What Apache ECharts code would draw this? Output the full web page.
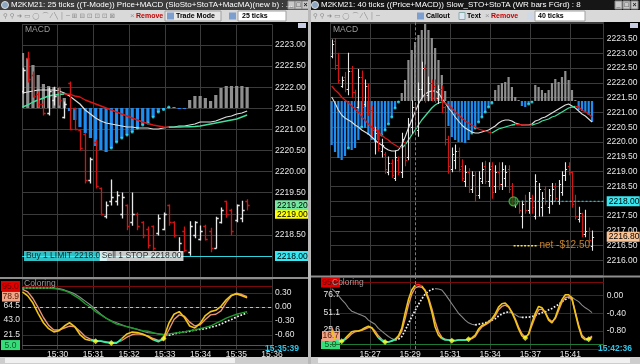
<!DOCTYPE html>
<html><head><meta charset="utf-8">
<script src="https://cdn.jsdelivr.net/npm/echarts@6/dist/echarts.min.js"></script>
<style>html,body{margin:0;padding:0;background:#000;}#c{width:640px;height:364px;}</style>
</head><body><div id="c"></div>
<script>
// ================= LEFT WINDOW DATA (25 ticks) =================
const leftTitle = 'M2KM21: 25 ticks ((T-Mode)) Price+MACD (SloSto+StoTA+MacMA)(new b) : ...';
const leftTimeStart = '15:29';
const leftTimeEnd = '15:36';
// [open, high, low, close]
const leftBars = [
 [2221.9,2222.45,2221.86,2222.4],[2222.7,2222.83,2222.12,2222.2],[2222.3,2222.36,2221.77,2221.8],
 [2221.85,2221.89,2221.53,2221.6],[2221.6,2221.7,2221.34,2221.4],[2221.4,2221.98,2221.34,2221.9],
 [2221.7,2222.0,2221.58,2221.8],[2221.9,2222.0,2221.58,2221.7],[2221.3,2221.65,2221.27,2221.6],
 [2222.1,2222.12,2220.99,2221.0],[2221.5,2221.5,2220.99,2221.0],[2220.99,2221.0,2220.51,2220.55],
 [2220.9,2220.91,2219.73,2219.8],[2219.8,2220.32,2219.73,2220.3],[2220.7,2220.75,2219.61,2219.65],
 [2219.6,2219.61,2218.97,2219.0],[2218.95,2219.28,2218.9,2219.2],[2219.3,2219.8,2219.21,2219.4],
 [2219.3,2219.52,2219.21,2219.45],[2219.0,2219.49,2218.9,2219.4],[2219.2,2219.21,2218.62,2218.7],
 [2218.8,2219.49,2218.73,2219.0],[2219.0,2219.02,2218.62,2218.7],[2218.8,2218.81,2218.43,2218.5],
 [2218.65,2218.69,2218.19,2218.25],[2218.7,2218.71,2218.14,2218.2],[2218.55,2218.97,2218.5,2218.9],
 [2218.65,2219.02,2218.62,2219.0],[2219.2,2219.21,2218.73,2218.8],[2218.8,2218.81,2218.45,2218.5],
 [2218.1,2218.43,2218.02,2218.3],[2218.6,2218.69,2218.1,2218.15],[2218.1,2218.81,2218.02,2218.7],
 [2218.5,2218.81,2218.43,2218.8],[2218.4,2218.71,2218.38,2218.6],[2218.7,2218.73,2218.38,2218.4],
 [2218.6,2218.66,2218.1,2218.2],[2218.2,2218.92,2218.19,2218.9],[2218.8,2219.14,2218.78,2219.1],
 [2219.3,2219.3,2218.92,2219.0],[2219.1,2219.11,2218.5,2218.6],[2218.85,2219.21,2218.81,2219.2],
 [2218.9,2219.3,2218.81,2219.1],[2219.3,2219.33,2219.09,2219.2]
];
const leftHist = [0.55,0.50,0.43,0.33,0.24,0.22,0.21,0.20,0.10,-0.03,
 -0.12,-0.19,-0.25,-0.30,-0.38,-0.42,-0.44,-0.40,-0.34,-0.30,
 -0.27,-0.24,-0.20,-0.17,-0.15,-0.09,-0.04,-0.015,0.01,0.01,
 -0.01,-0.01,0.08,0.12,0.12,0.10,0.07,0.13,0.20,0.22,
 0.22,0.22,0.22,0.21];
const leftHistDots = [17,18,19,20,21,22,23,24,25,26,27,28];
const leftMacd = [0.15,0.16,0.17,0.18,0.18,0.18,0.18,0.17,0.15,0.12,0.08,0.04,-0.02,-0.06,-0.10,-0.13,-0.15,-0.16,-0.17,-0.18,-0.19,-0.19,-0.20,-0.20,-0.20,-0.21,-0.21,-0.20,-0.19,-0.19,-0.18,-0.18,-0.17,-0.16,-0.14,-0.14,-0.14,-0.13,-0.11,-0.09,-0.08,-0.06,-0.05,-0.03];
const leftSignal = [0.01,0.03,0.06,0.08,0.10,0.12,0.13,0.135,0.14,0.138,0.12,0.11,0.08,0.06,0.04,0.02,0.00,-0.02,-0.04,-0.06,-0.08,-0.10,-0.12,-0.14,-0.155,-0.17,-0.18,-0.19,-0.192,-0.191,-0.19,-0.189,-0.187,-0.185,-0.18,-0.17,-0.16,-0.15,-0.14,-0.13,-0.12,-0.11,-0.09,-0.07];
const leftYellow = [86,80,69,53,39,30,25,27,34,39,33,21,14,12,11,11,9,8,8,15,22,25,24,22,18,13,10,15,38,52,56,47,34,31,38,50,56,58,64,74,81,83,80,77];
const leftSalmon = [90,86,76,62,47,35,28,28,31,34,33,26,18,14,12,11,10,9,9,12,17,21,22,21,19,15,12,13,28,44,51,49,40,34,36,44,51,52,57,70,80,84,82,78.9];
const leftGreen = [92,92,92,92,92,92,91,90,88,85,80,75,68,63,56,51,46,41,37,35,33,31,29,27,26,24,22,21,22,23,24,25,27,28,30,32,34,38,42,46,49,52,54,56];
const leftGray = [92,92,92,92,92,92,92,91,89,86,83,78,72,66,59,52,46,42,39,36,33,31,29,26,24,23,22,21,20,22,24,25,26,28,29,30,32,34,37,41,44,48,51,54];
const leftStochMarks = [14,17,27];
const leftPriceTicks = [2218,2218.5,2219,2219.5,2220,2220.5,2221,2221.5,2222,2222.5,2223];
const leftLastPrice = 2219.2;
const leftBidPrice = 2219.0;
const leftOrderPrice = 2218.0;
const leftOrderTexts = ['Buy 1 LIMIT 2218.00','Sell 1 STOP 2218.00'];
const leftOrderBars = [0, 14.5];
const leftStochTicks = [95, 64.5, 43.0, 21.5, 5];
const leftClock = '15:35:39';

// ================= RIGHT WINDOW DATA (40 ticks) =================
const rightTitle = 'M2KM21: 40 ticks ((Price+MACD)) Slow_STO+StoTA (WR bars FGrd) : 8';
const rightTimeLabels = ['', '15:27', '15:29', '15:31', '15:34', '15:37', '15:41'];
const rightBarsPerLabel = 12;
const rightBars = [
 [2222.9,2223.45,2222.85,2223.3],[2223.4,2223.5,2222.45,2222.6],[2222.6,2223.0,2222.0,2222.1],
 [2221.9,2222.2,2221.85,2222.1],[2222.2,2222.35,2221.7,2221.8],[2221.8,2223.0,2221.6,2222.4],
 [2222.4,2222.55,2221.5,2221.7],[2221.7,2221.75,2221.1,2221.2],[2221.2,2222.45,2221.15,2222.2],
 [2222.2,2222.4,2220.9,2221.2],[2221.3,2222.1,2221.2,2221.9],[2221.9,2221.95,2220.9,2221.1],
 [2221.1,2221.2,2220.2,2220.4],[2220.1,2220.5,2219.6,2220.3],[2220.3,2220.4,2219.7,2219.8],
 [2219.7,2220.1,2219.5,2219.9],[2219.6,2219.65,2218.95,2219.1],[2219.0,2219.5,2218.9,2219.3],
 [2219.3,2219.4,2218.8,2218.9],[2218.8,2219.7,2218.7,2219.5],[2219.4,2219.5,2218.9,2219.0],
 [2219.0,2220.3,2218.8,2220.1],[2220.0,2220.0,2219.2,2219.4],[2219.5,2220.8,2219.4,2220.6],
 [2220.5,2221.4,2220.3,2221.2],[2221.2,2221.3,2220.3,2220.5],[2220.4,2222.0,2220.2,2221.8],
 [2221.8,2222.7,2221.5,2222.5],[2222.5,2222.6,2221.35,2221.6],[2221.6,2222.2,2221.4,2222.0],
 [2222.0,2222.1,2221.4,2221.5],[2221.9,2222.1,2221.35,2221.5],[2221.5,2221.9,2221.3,2221.8],
 [2221.8,2221.9,2221.0,2221.2],[2221.2,2221.2,2219.9,2220.1],[2220.1,2220.2,2218.95,2219.2],
 [2219.1,2219.8,2219.0,2219.6],[2219.4,2219.9,2219.1,2219.7],[2219.7,2219.8,2219.0,2219.1],
 [2219.2,2219.4,2218.7,2218.8],[2218.7,2219.2,2218.5,2219.0],[2219.0,2219.1,2218.3,2218.4],
 [2218.4,2219.0,2218.3,2218.9],[2218.9,2219.0,2218.0,2218.2],[2218.2,2219.0,2218.1,2218.8],
 [2218.7,2219.3,2218.6,2219.1],[2219.2,2219.35,2218.6,2218.7],[2218.7,2219.3,2218.5,2219.1],
 [2219.2,2219.3,2218.1,2218.3],[2218.5,2219.2,2218.3,2219.0],[2219.0,2219.3,2218.4,2218.6],
 [2218.6,2219.3,2218.4,2219.1],[2218.8,2219.2,2218.5,2219.0],[2219.1,2219.2,2218.3,2218.4],
 [2218.5,2218.6,2217.9,2218.0],[2217.9,2218.1,2217.8,2218.0],[2218.0,2218.0,2217.6,2217.7],
 [2217.5,2218.0,2217.1,2217.9],[2218.0,2218.2,2217.6,2217.7],[2217.7,2218.3,2217.6,2218.1],
 [2218.1,2218.2,2217.6,2217.8],[2217.5,2218.9,2217.4,2218.7],[2218.0,2218.6,2217.5,2218.4],
 [2217.8,2218.3,2217.5,2218.1],[2218.4,2218.5,2217.9,2218.0],[2217.8,2218.4,2217.6,2218.2],
 [2218.0,2218.6,2217.9,2218.4],[2218.5,2218.6,2218.0,2218.1],[2218.0,2218.7,2217.9,2218.6],
 [2218.3,2219.0,2218.2,2218.9],[2218.9,2219.3,2218.7,2219.1],[2219.2,2219.3,2218.9,2219.0],
 [2219.0,2219.0,2217.8,2217.9],[2218.0,2218.2,2217.4,2217.5],[2217.4,2217.8,2217.3,2217.6],
 [2217.6,2217.6,2216.8,2216.9],[2216.9,2217.7,2216.8,2217.0],[2217.0,2217.1,2216.6,2216.7],
 [2216.5,2217.0,2216.35,2216.8]
];
const rightHist = [-0.44,-0.51,-0.57,-0.59,-0.55,-0.47,-0.49,-0.47,-0.39,-0.26,
 -0.27,-0.34,-0.39,-0.41,-0.39,-0.34,-0.29,-0.23,-0.16,-0.07,
 -0.01,0.08,0.21,0.41,0.51,0.59,0.66,0.71,0.77,0.71,
 0.63,0.53,0.41,0.26,0.10,-0.25,-0.36,-0.39,-0.41,-0.41,
 -0.42,-0.39,-0.32,-0.27,-0.21,-0.16,-0.11,-0.06,-0.02,0.11,
 0.16,0.18,0.19,0.24,0.14,0.04,0.00,-0.05,-0.06,-0.03,
 -0.01,0.16,0.14,0.11,0.08,0.11,0.18,0.22,0.19,0.24,
 0.30,0.21,0.11,0.01,-0.09,-0.10,-0.11,-0.14,-0.21];
const rightHistDots = [5,9,15,16,17,18,19,20,42,43,44,45,46,47,48,59,60];
const rightMacd = [0.04,-0.02,-0.09,-0.14,-0.17,-0.19,-0.21,-0.24,-0.26,-0.29,
 -0.31,-0.33,-0.36,-0.39,-0.42,-0.44,-0.47,-0.49,-0.50,-0.50,
 -0.49,-0.44,-0.36,-0.27,-0.19,-0.11,-0.03,0.03,0.07,0.09,
 0.10,0.10,0.08,0.03,-0.02,-0.07,-0.11,-0.16,-0.20,-0.24,
 -0.27,-0.29,-0.31,-0.32,-0.32,-0.31,-0.30,-0.29,-0.27,-0.25,
 -0.22,-0.20,-0.19,-0.19,-0.20,-0.22,-0.23,-0.24,-0.24,-0.24,
 -0.23,-0.20,-0.19,-0.17,-0.16,-0.14,-0.12,-0.10,-0.08,-0.06,
 -0.04,-0.03,-0.05,-0.07,-0.10,-0.13,-0.15,-0.18,-0.21];
const rightSignal = [0.15,0.11,0.08,0.04,0.01,-0.02,-0.05,-0.08,-0.11,-0.16,
 -0.19,-0.23,-0.26,-0.28,-0.31,-0.34,-0.37,-0.39,-0.42,-0.44,
 -0.46,-0.47,-0.44,-0.39,-0.34,-0.29,-0.24,-0.19,-0.15,-0.11,
 -0.07,-0.04,-0.02,-0.01,-0.02,-0.04,-0.07,-0.11,-0.14,-0.17,
 -0.20,-0.22,-0.24,-0.26,-0.28,-0.29,-0.30,-0.31,-0.32,-0.30,
 -0.28,-0.27,-0.26,-0.25,-0.24,-0.235,-0.236,-0.238,-0.24,-0.241,
 -0.242,-0.23,-0.22,-0.20,-0.19,-0.18,-0.16,-0.15,-0.13,-0.11,
 -0.09,-0.07,-0.06,-0.055,-0.06,-0.09,-0.11,-0.13,-0.16];
const rightYellow = [25,12,9,9,13,18,23,24,24,26,29,31,29,21,14,10,8,8,10,12,17,28,50,70,84,91,92,90,83,70,52,30,18,13,11,11,10,10,11,11,11,12,14,18,27,32,34,38,42,49,59,64,65,60,51,40,27,17,14,20,36,50,60,58,51,40,36,44,58,70,77,77,72,50,30,15,11,12,15];
const rightSalmon = [30,18,11,9,11,15,20,23,24,25,27,29,29,24,17,12,9,8,9,11,15,24,42,62,78,87,89,88,84,73,57,38,23,15,12,11,11,10,11,11,11,12,13,16,24,30,33,36,40,46,55,60,62,59,52,42,30,20,15,19,32,45,55,56,51,42,38,42,54,66,73,74,70,52,33,18,13,13,16.7];
const rightGray = [86,82,76,70,65,58,53,51,49,47,45,40,37,34,28,24,20,16,13,11,12,16,25,35,45,54,63,71,78,82,85,86,85.5,84,78,71,64,57,50,45,40,36,34,33,34,35,36,38,40,42,46,49,51,52,51,48,45,44,44,44.5,45,47,49,51,52,55,57,60,63,67,70,73,73.5,70,67,62,58,55,51];
const rightStochMarks = [3,16,36,41,58,77];
const rightPriceTicks = [2216,2216.5,2217,2217.5,2218,2218.5,2219,2219.5,2220,2220.5,2221,2221.5,2222,2222.5,2223,2223.5];
const rightLastPrice = 2216.8;
const rightOrderPrice = 2218.0;
const rightEntryBar = 54.5;
const rightMarkerBar = 25;
const rightNetText = 'net -$12.50';
const rightNetPrice = 2216.5;
const rightNetEndBar = 61.5;
const rightStochTicks = [95, 76.7, 51.1, 25.6, 5];
const rightClock = '15:42:36';
const stochHigh = 95, stochLow = 5;
const stochHotLevel = 89, stochColdLevel = 13;

// ================= HELPERS =================
const FF = 'Liberation Sans, Arial, sans-serif';
const GRIDC = '#3b3b3b';
const NONE = 'rgba(0,0,0,0)';
const xsL = leftBars.map((_, i) => i);
const xsR = rightBars.map((_, i) => i + 0.5);
const xR = b => b + 0.5;
const toMin = s => { const p = s.split(':').map(Number); return p[0] * 60 + p[1]; };
const hm = m => { const h = Math.floor(m / 60), mm = Math.round(m - h * 60); return h + ':' + (mm < 10 ? '0' : '') + mm; };
const near = (a, b) => Math.abs(a - b) < 1e-6;
const last = a => a[a.length - 1];

function splitBy(xs, vs, n, cls) {
  const out = [];
  for (let k = 0; k < n; k++) out.push([]);
  for (let i = 1; i < vs.length; i++) {
    const k = cls(i);
    for (let j = 0; j < n; j++) {
      if (j === k) out[j].push([xs[i - 1], vs[i - 1]], [xs[i], vs[i]]);
      else out[j].push([xs[i], '-']);
    }
  }
  return out;
}
const splitSlope = (xs, vs) => splitBy(xs, vs, 2, i => vs[i] >= vs[i - 1] ? 0 : 1);
const splitLevel = (xs, vs, lo, hi) => splitBy(xs, vs, 3, i => { const m = (vs[i - 1] + vs[i]) / 2; return m < lo ? 0 : (m >= hi ? 2 : 1); });

function ohlcRender(tick, lw) {
  return function (params, api) {
    const x = api.value(0), o = api.value(1), h = api.value(2), l = api.value(3), c = api.value(4);
    const ph = api.coord([x, h]), pl = api.coord([x, l]), po = api.coord([x, o]), pc = api.coord([x, c]);
    const col = c >= o ? '#e8e8e8' : '#d21414';
    const X = Math.round(ph[0]) + 0.5;
    const st = { stroke: col, lineWidth: lw };
    return { type: 'group', children: [
      { type: 'line', shape: { x1: X, y1: ph[1] - 0.5, x2: X, y2: pl[1] + 0.5 }, style: st },
      { type: 'line', shape: { x1: X - tick, y1: Math.round(po[1]) + 0.5, x2: X, y2: Math.round(po[1]) + 0.5 }, style: st },
      { type: 'line', shape: { x1: X, y1: Math.round(pc[1]) + 0.5, x2: X + tick, y2: Math.round(pc[1]) + 0.5 }, style: st }
    ] };
  };
}
function histRender(halfW) {
  return function (params, api) {
    const x = api.value(0), v = api.value(1);
    const p0 = api.coord([x, 0]), p1 = api.coord([x, v]);
    const h = Math.max(1, Math.abs(p1[1] - p0[1]));
    return { type: 'rect', shape: { x: p0[0] - halfW, y: v >= 0 ? p0[1] - h : p0[1], width: halfW * 2, height: h },
      style: { fill: v >= 0 ? '#8e8e8e' : '#1e8cf0' } };
  };
}
function priceFmt(specials) {
  return v => { for (const s of specials) if (near(v, s.v)) return '{' + s.k + '|' + v.toFixed(2) + '}'; return v.toFixed(2); };
}
function stochFmt(specials) {
  return v => { for (const s of specials) if (near(v, s.v)) return '{' + s.k + '|' + v.toFixed(1) + '}'; return v.toFixed(1); };
}
const boxP = (bg, w) => ({ backgroundColor: bg, color: '#000', padding: [1, 1, 0, 2], width: w, fontSize: 8.5, fontFamily: FF });
const priceRich = { g: boxP('#74e6a0', 30), y: boxP('#ffff00', 30), c: boxP('#35e8f2', 30), s: boxP('#f9c396', 30) };
const stochRich = {
  r: { backgroundColor: '#e00000', color: '#6a0000', padding: [1, 1, 0, 1], width: 17, align: 'center', fontSize: 8.5, fontFamily: FF },
  gr: { backgroundColor: '#36dc78', color: '#0a5a2a', padding: [1, 1, 0, 1], width: 17, align: 'center', fontSize: 8.5, fontFamily: FF }
};
// value tags next to an axis, drawn as labels of invisible markLines
const priceTag = (v, bg) => ({ yAxis: v, lineStyle: { color: NONE, width: 1 },
  label: { show: true, position: 'end', distance: 3, formatter: v.toFixed(2), backgroundColor: bg, color: '#000',
    padding: [1, 1, 0, 2], width: 30, fontSize: 8.5, fontFamily: FF } });
const stochTag = (v, dist) => ({ yAxis: v, lineStyle: { color: NONE, width: 1 },
  label: { show: true, position: 'start', distance: dist, formatter: v.toFixed(1), backgroundColor: '#f0a488', color: '#5a1a00',
    padding: [1, 1, 0, 1], width: 16, align: 'right', fontSize: 8.5, fontFamily: FF } });
const levelData = [{ yAxis: stochHigh, lineStyle: { color: '#7a0a0a', width: 1, type: 'solid' } },
                   { yAxis: stochLow, lineStyle: { color: '#1d7a35', width: 1, type: 'solid' } }];
const mk = data => ({ silent: true, symbol: ['none', 'none'], label: { show: false }, animation: false, data });
const YEL = ['#3cf0a5', '#f2c417', '#ff2020'];
const SAL = ['#2bd494', '#e8937a', '#e8937a'];

// ================= SERIES =================
const series = [];
const add = s => { series.push(Object.assign({ animation: false, silent: true }, s)); return series.length - 1; };
const lineS = (xa, ya, data, color, width, type, z, extra) => add(Object.assign({ type: 'line', xAxisIndex: xa, yAxisIndex: ya, symbol: 'none',
  connectNulls: false, lineStyle: { color, width, type: type || 'solid' }, data, z }, extra || {}));

// ---- left main (grid 0): xAxis 1 (bars), yAxis 0 price / 1 macd
add({ type: 'custom', xAxisIndex: 1, yAxisIndex: 1, renderItem: histRender(1.6), encode: { x: 0, y: 1 },
  data: leftHist.map((v, i) => [xsL[i], v]), clip: true, z: 1 });
add({ type: 'scatter', xAxisIndex: 1, yAxisIndex: 1, symbolSize: 3, itemStyle: { color: '#2fe6ee' },
  data: leftHistDots.map(i => [xsL[i], leftHist[i]]), z: 2 });
lineS(1, 1, leftMacd.map((v, i) => [xsL[i], v]), '#dedede', 1.2, 'solid', 3);
const sgL = splitSlope(xsL, leftSignal);
lineS(1, 1, sgL[0], '#3fdf9c', 1.4, 'solid', 3);
lineS(1, 1, sgL[1], '#dc1414', 1.4, 'solid', 3);
add({ type: 'custom', xAxisIndex: 1, yAxisIndex: 0, renderItem: ohlcRender(2.2, 1.3), encode: { x: 0, y: [1, 2, 3, 4] },
  data: leftBars.map((b, i) => [xsL[i]].concat(b)), clip: true, z: 4 });
lineS(1, 0, [[xsL[0], leftOrderPrice]], NONE, 1, 'solid', 4, {
  markLine: mk([{ yAxis: leftOrderPrice, lineStyle: { color: '#2fd4dc', width: 1, type: 'solid' } },
                priceTag(leftLastPrice, '#74e6a0')]) });
add({ type: 'scatter', xAxisIndex: 1, yAxisIndex: 0, symbolSize: 1, itemStyle: { color: NONE }, z: 6,
  data: leftOrderBars.map((b, k) => ({ value: [b, leftOrderPrice], label: {
    show: true, position: 'right', distance: 1, formatter: leftOrderTexts[k], fontFamily: FF, fontSize: 8.5, color: '#000',
    backgroundColor: k === 0 ? '#3ff0f6' : '#ffffff', padding: [1, 2, 0, 2] } })) });

// ---- left lower (grid 1): xAxis 3, yAxis 2 stoch / 3 osc
const gyL = splitSlope(xsL, leftGray);
lineS(3, 2, gyL[1], '#8a8a8a', 1.2, 'solid', 2, { markLine: mk(levelData.concat([stochTag(last(leftSalmon), 2)])) });
lineS(3, 2, gyL[0], '#f2f2f2', 1.7, 'dotted', 2);
lineS(3, 2, leftGreen.map((v, i) => [xsL[i], v]), '#1f9a2c', 1.4, 'solid', 3);
splitLevel(xsL, leftSalmon, 12, 1000).forEach((d, k) => lineS(3, 2, d, SAL[k], 1.4, 'solid', 4));
splitLevel(xsL, leftYellow, stochColdLevel, stochHotLevel).forEach((d, k) => lineS(3, 2, d, YEL[k], 1.6, 'solid', 5));
add({ type: 'scatter', xAxisIndex: 3, yAxisIndex: 2, symbol: 'diamond', symbolSize: 6, itemStyle: { color: '#ffff30' },
  data: leftStochMarks.map(i => [xsL[i], leftYellow[i]]), z: 6 });
lineS(3, 3, [[0, 0]], NONE, 1, 'solid', 1, {
  markLine: mk([{ yAxis: 0, lineStyle: { color: '#bdbdbd', width: 1, type: [3, 3] } }]) });

// ---- right main (grid 2): xAxis 4, yAxis 4 price / 5 macd
add({ type: 'custom', xAxisIndex: 4, yAxisIndex: 5, renderItem: histRender(1.1), encode: { x: 0, y: 1 },
  data: rightHist.map((v, i) => [xsR[i], v]), clip: true, z: 1 });
add({ type: 'scatter', xAxisIndex: 4, yAxisIndex: 5, symbolSize: 3, itemStyle: { color: '#2fe6ee' },
  data: rightHistDots.map(i => [xsR[i], rightHist[i]]), z: 2 });
lineS(4, 5, rightMacd.map((v, i) => [xsR[i], v]), '#dedede', 1.1, 'solid', 3, {
  markLine: mk([{ xAxis: xR(rightMarkerBar), lineStyle: { color: '#2a9da0', width: 1, type: [3, 2] } }]) });
const sgR = splitSlope(xsR, rightSignal);
lineS(4, 5, sgR[0], '#3fdf9c', 1.3, 'solid', 3);
lineS(4, 5, sgR[1], '#dc1414', 1.3, 'solid', 3);
add({ type: 'custom', xAxisIndex: 4, yAxisIndex: 4, renderItem: ohlcRender(1.6, 1.1), encode: { x: 0, y: [1, 2, 3, 4] },
  data: rightBars.map((b, i) => [xsR[i]].concat(b)), clip: true, z: 4 });
lineS(4, 4, [[xR(rightEntryBar), rightOrderPrice], [82, rightOrderPrice]], '#2fd4dc', 1, [2, 2], 5, {
  markLine: mk([priceTag(rightLastPrice, '#f9c396')]) });
lineS(4, 4, [[xR(rightEntryBar), rightNetPrice], [xR(rightNetEndBar), rightNetPrice]], '#ffe81e', 1.5, [2, 1.5], 5);
add({ type: 'scatter', xAxisIndex: 4, yAxisIndex: 4, symbolSize: 1, itemStyle: { color: NONE }, z: 6,
  data: [{ value: [xR(rightNetEndBar), rightNetPrice], label: { show: true, position: 'right', distance: 2, formatter: rightNetText,
    color: '#f2a03c', fontSize: 10, fontFamily: FF } }] });
add({ type: 'scatter', xAxisIndex: 4, yAxisIndex: 4, symbolSize: 9, z: 6,
  itemStyle: { color: '#1e5a1e', borderColor: '#49c849', borderWidth: 1.3 },
  data: [[xR(rightEntryBar), rightOrderPrice]] });

// ---- right lower (grid 3): xAxis 5, yAxis 6 stoch / 7 osc
const gyR = splitSlope(xsR, rightGray);
lineS(5, 6, gyR[1], '#8a8a8a', 1.1, 'solid', 2, { markLine: mk(levelData.concat([
  { xAxis: xR(rightMarkerBar), lineStyle: { color: '#2a9da0', type: [3, 2], width: 1 } },
  stochTag(last(rightSalmon), -10)])) });
lineS(5, 6, gyR[0], '#f2f2f2', 1.7, 'dotted', 2);
splitLevel(xsR, rightSalmon, 12, 1000).forEach((d, k) => lineS(5, 6, d, SAL[k], 1.4, 'solid', 4));
splitLevel(xsR, rightYellow, stochColdLevel, stochHotLevel).forEach((d, k) => lineS(5, 6, d, YEL[k], 1.6, 'solid', 5));
add({ type: 'scatter', xAxisIndex: 5, yAxisIndex: 6, symbol: 'diamond', symbolSize: 6, itemStyle: { color: '#ffff30' },
  data: rightStochMarks.map(i => [xsR[i], rightYellow[i]]), z: 6 });

// ================= AXES =================
const lblBase = { color: '#e6e6e6', fontSize: 8.5, fontFamily: FF, hideOverlap: false };
const hidden = (grid, min, max) => ({ gridIndex: grid, type: 'value', show: false, min, max });
const t0 = toMin(leftTimeStart), t1 = toMin(leftTimeEnd);
const timeAxis = (grid, showLabel) => ({ gridIndex: grid, type: 'value', min: t0, max: t1, interval: 1,
  axisLine: { show: false }, axisTick: { show: false },
  splitLine: { show: true, lineStyle: { color: GRIDC, width: 1 } },
  axisLabel: Object.assign({ show: showLabel, showMinLabel: false, margin: 1, formatter: v => hm(v) }, lblBase) });
const slotAxis = (grid, showLabel) => ({ gridIndex: grid, type: 'value', min: 0, max: 82, interval: rightBarsPerLabel,
  axisLine: { show: false }, axisTick: { show: false },
  splitLine: { show: true, lineStyle: { color: GRIDC, width: 1 } },
  axisLabel: Object.assign({ show: showLabel, showMinLabel: false, margin: 1,
    formatter: v => rightTimeLabels[Math.round(v / rightBarsPerLabel)] || '' }, lblBase) });

const xAxis = [
  timeAxis(0, false), hidden(0, -0.1, 47.76),
  timeAxis(1, true), hidden(1, -0.1, 47.76),
  slotAxis(2, false), slotAxis(3, true)
];
const yAxis = [
  { gridIndex: 0, type: 'value', position: 'right', min: 2217.5, max: 2223.49, interval: 0.5,
    axisLine: { show: false }, axisTick: { show: false }, splitLine: { lineStyle: { color: GRIDC } },
    axisLabel: Object.assign({ margin: 3, customValues: leftPriceTicks,
      formatter: priceFmt([{ v: leftBidPrice, k: 'y' }, { v: leftOrderPrice, k: 'c' }]), rich: priceRich }, lblBase) },
  hidden(0, -1.691, 0.837),
  { gridIndex: 1, type: 'value', position: 'left', min: -1, max: 105.7,
    axisLine: { show: false }, axisTick: { show: false }, splitLine: { show: false },
    axisLabel: Object.assign({ margin: 2, customValues: leftStochTicks,
      formatter: stochFmt([{ v: stochHigh, k: 'r' }, { v: stochLow, k: 'gr' }]), rich: stochRich }, lblBase) },
  { gridIndex: 1, type: 'value', position: 'right', min: -0.9, max: 0.6, interval: 0.3,
    axisLine: { show: false }, axisTick: { show: false }, splitLine: { lineStyle: { color: '#2e2e2e' } },
    axisLabel: Object.assign({ margin: 3, showMinLabel: false, showMaxLabel: false, formatter: v => v.toFixed(2) }, lblBase) },
  { gridIndex: 2, type: 'value', position: 'right', min: 2215.5, max: 2224.05, interval: 0.5,
    axisLine: { show: false }, axisTick: { show: false }, splitLine: { lineStyle: { color: GRIDC } },
    axisLabel: Object.assign({ margin: 3, customValues: rightPriceTicks,
      formatter: priceFmt([{ v: rightOrderPrice, k: 'c' }]), rich: priceRich }, lblBase) },
  hidden(2, -1.743, 0.788),
  { gridIndex: 3, type: 'value', position: 'left', min: -2.2, max: 102.3,
    axisLine: { show: false }, axisTick: { show: false }, splitLine: { show: false },
    axisLabel: Object.assign({ margin: -10, customValues: rightStochTicks,
      formatter: stochFmt([{ v: stochHigh, k: 'r' }, { v: stochLow, k: 'gr' }]), rich: stochRich }, lblBase) },
  { gridIndex: 3, type: 'value', position: 'right', min: -1.2, max: 0.4, interval: 0.4,
    axisLine: { show: false }, axisTick: { show: false }, splitLine: { lineStyle: { color: '#2e2e2e' } },
    axisLabel: Object.assign({ margin: 3, showMinLabel: false, showMaxLabel: false, formatter: v => v.toFixed(2) }, lblBase) }
];

// ================= WINDOW CHROME =================
const G = [];
const R = (x, y, w, h, fill, stroke) => G.push({ type: 'rect', shape: { x, y, width: w, height: h }, style: { fill, stroke: stroke || null, lineWidth: 1 }, z: 100, silent: true });
const T = (x, y, text, fill, font, align) => G.push({ type: 'text', x, y, style: { text, fill, font: font || ('8px ' + FF), align: align || 'left', verticalAlign: 'middle' }, z: 101, silent: true });
const TB = 'bold 7px ' + FF;
R(0, 0, 308, 10, '#3c3c3c'); R(311, 0, 329, 10, '#161616');
G.push({ type: 'circle', shape: { cx: 5, cy: 5, r: 3.5 }, style: { fill: '#8fa6c0', stroke: '#ddd' }, z: 101, silent: true });
G.push({ type: 'circle', shape: { cx: 315, cy: 5, r: 3.5 }, style: { fill: '#8fa6c0', stroke: '#ddd' }, z: 101, silent: true });
T(11, 5, leftTitle, '#ffffff', '8px ' + FF);
T(321, 5, rightTitle, '#ffffff', '8px ' + FF);
[[288, '_'], [295, '□'], [302, '×'], [615, '_'], [623, '□'], [631, '×']].forEach(b => { R(b[0], 1, 7, 8, '#c9c9c9', '#888'); T(b[0] + 3.5, 5, b[1], '#222', 'bold 7px ' + FF, 'center'); });
R(0, 10, 308, 12, '#d9d9d9'); R(311, 10, 329, 12, '#d9d9d9');
T(3, 16, '⚲ ⚲ ➜ ▭ ◯ ⌒ ⁄ ╲ │ ─ ⊞ ⊟ ⊡ ⊡ ⊡ ⊠', '#8a8a8a', '6.5px DejaVu Sans');
T(313, 16, '⚲ ⚲ ➜ ▭ ◯ ⌒ ⁄ ╲ │ ─', '#8a8a8a', '6.5px DejaVu Sans');
T(130, 16, '×', '#999', '8px ' + FF); T(136, 16, 'Remove', '#c40000', TB);
R(165, 11, 56, 10, '#e6e6e6', '#a0a0a0'); R(167, 12.5, 7, 7, '#7d9fcf'); T(176, 16, 'Trade Mode', '#000', TB);
R(229, 12.5, 7, 7, '#7d9fcf'); R(238, 11, 48, 10, '#ffffff', '#a0a0a0'); T(242, 16, '25 ticks', '#000', TB);
R(417, 12.5, 7, 7, '#7d9fcf'); T(426, 16, 'Callout', '#000', TB);
R(459, 12.5, 6, 7, '#dfe8f5', '#8aa'); T(467, 16, 'Text', '#000', TB);
T(485, 16, '×', '#999', '8px ' + FF); T(491, 16, 'Remove', '#c40000', TB);
R(527, 12.5, 7, 7, '#cfd8e6'); R(535, 11, 50, 10, '#ffffff', '#a0a0a0'); T(538, 16, '40 ticks', '#000', TB);
R(308, 0, 3, 364, '#b9b9b9');
R(0, 277, 308, 2, '#8e8e8e'); R(311, 275.5, 329, 2, '#8e8e8e');
R(0, 357, 308, 7, '#cdcdcd'); R(5, 358, 230, 5, '#f0f0f0'); R(311, 357, 329, 7, '#cdcdcd'); R(318, 358, 312, 5, '#f0f0f0');
T(25, 30, 'MACD', '#9c9c9c', '8.5px ' + FF); T(333, 30, 'MACD', '#9c9c9c', '8.5px ' + FF);
T(24, 284, 'Coloring', '#9c9c9c', '8.5px ' + FF); T(332, 283, 'Coloring', '#9c9c9c', '8.5px ' + FF);
R(298, 23, 8, 5, '#c8cce0'); R(630, 23, 8, 5, '#c8cce0');
T(265, 349, leftClock, '#2bc6ea', 'bold 8.5px ' + FF); T(598, 349, rightClock, '#2bc6ea', 'bold 8.5px ' + FF);

// ================= OPTION =================
const option = {
  backgroundColor: '#000',
  animation: false,
  grid: [
    { left: 22, top: 24.3, width: 250, height: 252.8, containLabel: false, outerBoundsMode: 'none' },
    { left: 22, top: 279, width: 250, height: 70, containLabel: false, outerBoundsMode: 'none' },
    { left: 330, top: 22.2, width: 273.7, height: 253.1, containLabel: false, outerBoundsMode: 'none' },
    { left: 330, top: 277.5, width: 273.7, height: 71.5, containLabel: false, outerBoundsMode: 'none' }
  ],
  xAxis, yAxis, series,
  graphic: { elements: G }
};
const chart = echarts.init(document.getElementById('c'), null, { renderer: 'canvas', width: 640, height: 364 });
chart.setOption(option);
</script></body></html>
